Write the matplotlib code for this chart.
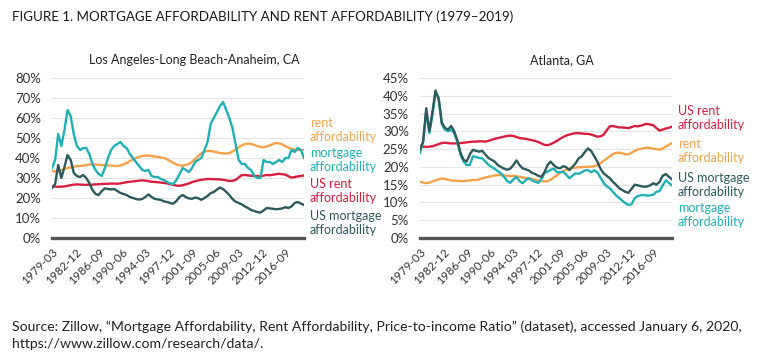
import numpy as np
import pandas as pd
import matplotlib
matplotlib.use("Agg")
import matplotlib.pyplot as plt

plt.rcParams["font.family"] = ["Lato", "DejaVu Sans"]

# quarterly axis 1979Q1 .. 2019Q3, values read every second quarter
quarters = pd.period_range("1979Q1", "2019Q3", freq="Q")
tick_every = 15

# US series (same in both panels)
us_mortgage = [25, 27, 36.5, 30, 35.5, 41.5, 39, 32.5, 31, 30.5, 31.5, 30, 27.5, 24, 22, 21.5,
               23.5, 24.8, 24.5, 24.3, 24.5, 23.5, 22.5, 22, 21.5, 20.5, 20, 19.5, 19.2, 19.5, 20.5, 21.8,
               20.5, 19.6, 19.3, 19, 18.3, 18, 17.5, 17.2, 18.5, 20.5, 21.5, 20.5, 19.8, 19.6, 20.2, 19.9,
               19.1, 20, 21, 22.4, 23, 24.2, 25.2, 24.5, 23, 21.5, 19.5, 18.2, 17.5, 16.8, 15.8, 15,
               14, 13.5, 13, 12.7, 13.8, 15, 14.8, 14.6, 14.4, 14.5, 14.8, 15.4, 15, 15.8, 17.5, 18,
               17.2, 16.5]
us_rent = [25.9, 25.7, 25.6, 25.7, 25.8, 26.1, 26.4, 26.7, 26.8, 26.7, 26.6, 26.6, 26.6, 26.7, 26.8, 26.9,
           27, 27.1, 27.1, 27.2, 27.2, 27.1, 27.3, 27.6, 27.9, 28.1, 28.3, 28.5, 28.7, 28.8, 28.7, 28.4,
           28.1, 28, 27.9, 27.7, 27.5, 27.3, 27, 26.6, 26.2, 26.1, 26.4, 26.8, 27.3, 27.9, 28.4, 28.8,
           29.1, 29.3, 29.5, 29.5, 29.4, 29.3, 29.3, 29.1, 28.8, 28.5, 28.6, 29, 30.3, 31.4, 31.5, 31.3,
           31.1, 31.1, 31, 30.9, 31.2, 31.5, 31.4, 31.6, 31.9, 32.1, 31.9, 31.7, 30.9, 30.2, 30.5, 30.8,
           31, 31.3]

# Los Angeles-Long Beach-Anaheim, CA
la_mortgage = [35, 39, 52, 46, 54, 64, 61, 52, 46, 44, 45, 45, 42, 37, 34, 32,
               31, 35, 40, 44, 46, 47, 48, 46, 45, 42, 40, 38, 36, 34, 33.5, 34,
               31, 30.5, 30.5, 29.5, 29, 28, 27.3, 27, 29, 32, 35, 34, 33, 35, 38, 39,
               40, 44, 48, 57, 60, 63, 66, 68, 64, 60, 55, 47, 39, 37, 37, 35,
               34, 31, 30, 30, 39, 38, 38, 37, 38, 39, 38, 40, 40, 44, 43, 45,
               44, 40]
la_rent = [33.5, 33.2, 33.5, 34, 34.5, 35, 35.3, 35.6, 36, 36, 36.2, 36.5, 36.7, 36.8, 36.8, 36.6,
           36.5, 36.4, 36.3, 36.2, 36, 36, 36.2, 36.8, 37.5, 38.5, 39.3, 40, 40.6, 41, 41.2, 41.2,
           41, 40.8, 40.5, 40.2, 40, 39.3, 38.5, 37.5, 36.8, 36.3, 36.2, 36.5, 37, 38, 39.5, 41,
           42.3, 43.2, 43.5, 43.5, 43.2, 42.8, 42.5, 42.3, 42.2, 42.5, 43.2, 44.2, 45.3, 46.3, 47, 47.2,
           47, 46.5, 46, 45.5, 45.3, 45.8, 46.3, 47, 47.5, 47.3, 46.8, 46, 45.2, 44.6, 44.2, 44,
           44, 44]

# Atlanta, GA
atl_mortgage = [24, 27, 35.5, 29.5, 34.5, 41, 39.5, 32, 30.5, 30, 30.5, 29.5, 27, 23.5, 21.5, 20.5,
                20.5, 23, 22.8, 22.5, 22.4, 21.5, 20.6, 20, 19.5, 18.8, 18.2, 17.2, 16, 15.5, 16.5, 17.2,
                16, 15.4, 16.3, 16.8, 16.2, 15.8, 15.5, 16.5, 18.3, 18.6, 19.2, 19.5, 18.5, 18.5, 18.6, 17.8,
                16.8, 17.5, 18.2, 18, 18.5, 19, 19.1, 18.5, 19, 18.5, 17, 15.5, 14.5, 14, 13, 12,
                11.3, 10.5, 9.8, 9.3, 9.5, 11.2, 11.8, 12, 12.1, 11.9, 12, 12.2, 13, 13.2, 14.8, 16.2,
                15.5, 14.8]
atl_rent = [15.8, 15.6, 15.4, 15.6, 15.9, 16.2, 16.5, 16.7, 16.6, 16.4, 16.2, 16.1, 16.1, 16, 16, 16.1,
            16.2, 16.3, 16.3, 16.5, 16.8, 17, 17.2, 17.4, 17.6, 17.7, 17.7, 17.6, 17.5, 17.4, 17.5, 17.4,
            17.2, 17, 16.9, 16.8, 16.6, 16.4, 16.2, 16, 15.9, 16, 16.4, 17, 17.6, 18.3, 18.8, 19.2,
            19.5, 19.7, 19.8, 19.9, 19.9, 20, 20, 20.1, 20.2, 20.5, 21, 21.7, 22.3, 23, 23.6, 23.9,
            24, 23.8, 23.6, 23.5, 24, 24.5, 24.9, 25.1, 25.3, 25.4, 25.3, 25.1, 25, 24.8, 25.2, 25.7,
            26.2, 26.7]

ORANGE = "#f5a24b"
TEAL = "#1fb1b5"
RED = "#d81f3f"
SLATE = "#2e5a5b"

W, H = 768, 364
fig = plt.figure(figsize=(W / 100, H / 100), dpi=100)


def fx(x):
    return x / W


def fy(y):
    return 1 - y / H


x = np.arange(len(quarters))[::2]
tick_pos = np.arange(0, len(quarters), tick_every)
tick_lab = [f"{quarters[i].year}-{quarters[i].quarter * 3:02d}" for i in tick_pos]


def panel(left, ymax, ystep, series, title, title_x, labels):
    ax = fig.add_axes([fx(left), fy(238), fx(252), 160 / H])
    for vals, col in series:
        ax.plot(x, np.array(vals) / 100, color=col, lw=1.7, solid_joinstyle="round")
    ax.set_xlim(0, len(quarters) - 1)
    ax.set_ylim(0, ymax)
    ax.set_yticks(np.arange(0, ymax + 1e-9, ystep))
    ax.set_yticklabels([f"{v * 100:.0f}%" for v in np.arange(0, ymax + 1e-9, ystep)])
    ax.set_xticks(tick_pos)
    ax.set_xticklabels(tick_lab, rotation=45, ha="right", rotation_mode="anchor")
    ax.tick_params(length=0, labelsize=8.5, colors="#333333", pad=5)
    ax.tick_params(axis="y", labelsize=9.5, pad=8)
    ax.tick_params(axis="x", pad=6)
    ax.grid(axis="y", color="#e4e4e4", lw=0.8)
    ax.set_axisbelow(True)
    for s in ["top", "right", "left"]:
        ax.spines[s].set_visible(False)
    ax.spines["bottom"].set_color("#555555")
    ax.spines["bottom"].set_linewidth(2.4)
    fig.text(fx(title_x), fy(60), title, ha="center", va="center", fontsize=9, color="#222222")
    for lx, ly, txt, col in labels:
        fig.text(fx(lx), fy(ly), txt, ha="left", va="center", fontsize=9,
                 color=col, linespacing=1.15)
    return ax


panel(52, 0.8, 0.1,
      [(la_rent, ORANGE), (us_rent, RED), (la_mortgage, TEAL), (us_mortgage, SLATE)],
      "Los Angeles-Long Beach-Anaheim, CA", 194,
      [(310, 130, "rent\naffordability", ORANGE),
       (310, 160, "mortgage\naffordability", TEAL),
       (310, 191, "US rent\naffordability", RED),
       (310, 223, "US mortgage\naffordability", SLATE)])

panel(420, 0.45, 0.05,
      [(atl_rent, ORANGE), (us_rent, RED), (atl_mortgage, TEAL), (us_mortgage, SLATE)],
      "Atlanta, GA", 562,
      [(678, 118, "US rent\naffordability", RED),
       (678, 151, "rent\naffordability", ORANGE),
       (678, 185, "US mortgage\naffordability", SLATE),
       (678, 215, "mortgage\naffordability", TEAL)])

fig.text(fx(12), fy(17), "FIGURE 1. MORTGAGE AFFORDABILITY AND RENT AFFORDABILITY (1979\u20132019)",
         ha="left", va="center", fontsize=9.6, color="#1a1a1a")
fig.text(fx(12), fy(335),
         "Source: Zillow, \u201cMortgage Affordability, Rent Affordability, Price-to-income Ratio\u201d "
         "(dataset), accessed January 6, 2020,\nhttps://www.zillow.com/research/data/.",
         ha="left", va="center", fontsize=10.1, color="#222222", linespacing=1.45)

fig.savefig("out.png", dpi=100)
